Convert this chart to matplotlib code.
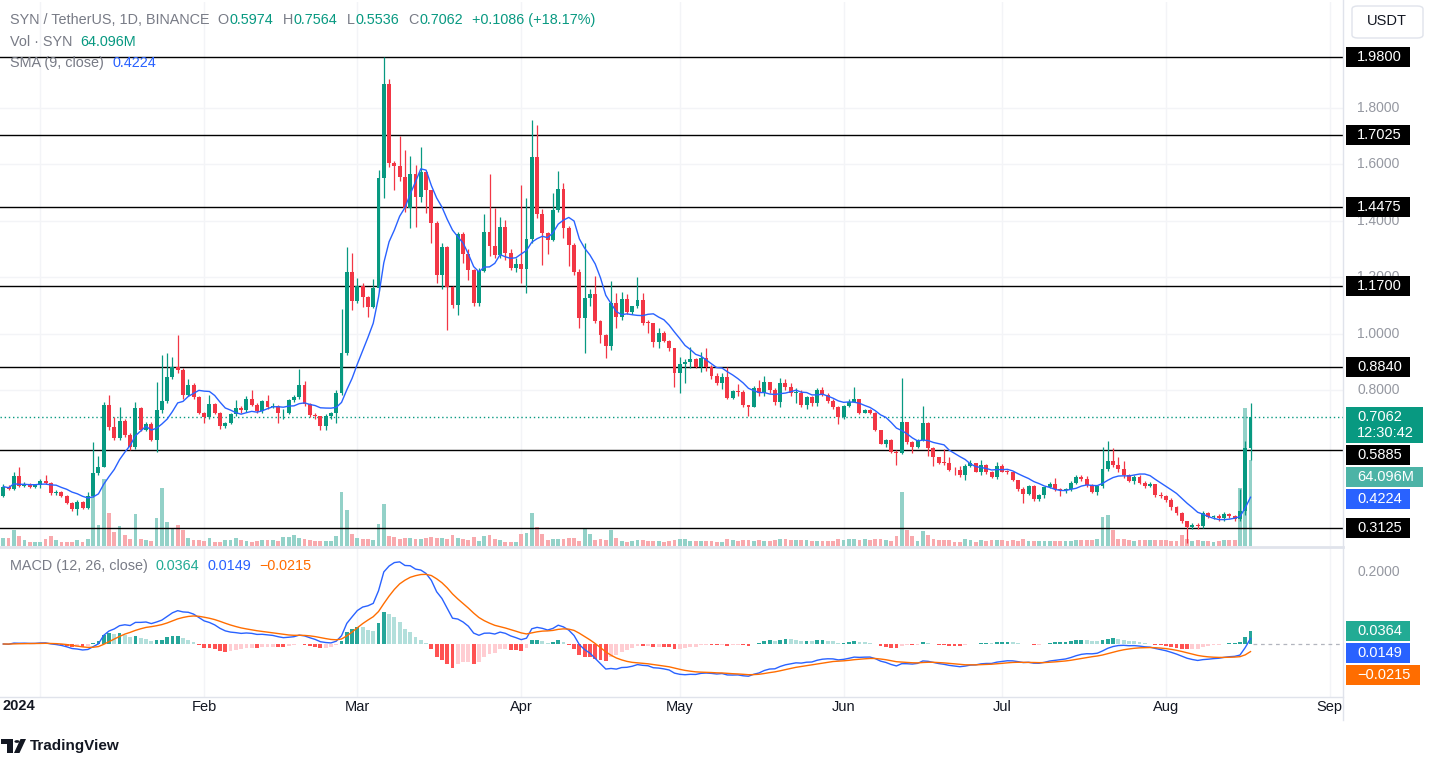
import matplotlib
matplotlib.use('Agg')
import matplotlib.pyplot as plt
import matplotlib.transforms as mtrans
from matplotlib.lines import Line2D
from matplotlib.patches import Polygon, Circle, FancyBboxPatch, Rectangle
import numpy as np
import pandas as pd

plt.rcParams['font.family'] = ['Liberation Sans', 'DejaVu Sans']

# ---- data (SYN/USDT daily) ----
last_day = '2024-08-17'
first_open = 0.427

close = [
    0.460, 0.452, 0.498, 0.462, 0.469, 0.460, 0.466, 0.481, 0.472, 0.436,
    0.441, 0.427, 0.403, 0.380, 0.406, 0.386, 0.427, 0.507, 0.531, 0.749,
    0.670, 0.631, 0.692, 0.643, 0.599, 0.737, 0.660, 0.681, 0.625, 0.731,
    0.763, 0.849, 0.884, 0.874, 0.784, 0.819, 0.778, 0.721, 0.707, 0.752,
    0.721, 0.674, 0.686, 0.717, 0.737,
    0.730, 0.769, 0.749, 0.727, 0.763, 0.743, 0.745, 0.719, 0.722, 0.766,
    0.776, 0.819, 0.752, 0.713, 0.708, 0.674, 0.710, 0.719, 0.790, 0.934,
    1.220, 1.118, 1.170, 1.132, 1.096, 1.161, 1.550, 1.883, 1.603, 1.594,
    1.556, 1.444, 1.564, 1.485, 1.574, 1.509, 1.391, 1.208, 1.306, 1.165,
    1.102, 1.353, 1.283, 1.226,
    1.108, 1.224, 1.359, 1.312, 1.279, 1.377, 1.285, 1.234, 1.246, 1.228,
    1.334, 1.624, 1.423, 1.356, 1.332, 1.438, 1.513, 1.373, 1.314, 1.220,
    1.055, 1.126, 1.141, 1.047, 0.996, 0.957, 1.108, 1.061, 1.122, 1.079,
    1.099, 1.120, 1.040, 1.038, 0.972, 1.004, 0.976, 0.949, 0.861, 0.893,
    0.899, 0.912, 0.884,
    0.914, 0.884, 0.851, 0.828, 0.849, 0.775, 0.798, 0.793, 0.747, 0.743,
    0.810, 0.790, 0.829, 0.802, 0.760, 0.825, 0.811, 0.790, 0.792, 0.747,
    0.778, 0.754, 0.802, 0.784, 0.764, 0.743, 0.705, 0.745, 0.760, 0.769,
    0.721, 0.731, 0.722, 0.660, 0.611, 0.625, 0.584, 0.580, 0.690, 0.619,
    0.601, 0.625, 0.684, 0.598,
    0.564, 0.545, 0.543, 0.519, 0.517, 0.501, 0.533, 0.542, 0.513, 0.536,
    0.513, 0.495, 0.533, 0.513, 0.512, 0.483, 0.453, 0.434, 0.462, 0.415,
    0.430, 0.457, 0.469, 0.450, 0.448, 0.450, 0.474, 0.493, 0.486, 0.466,
    0.442, 0.462, 0.521, 0.549, 0.536, 0.521, 0.501, 0.481, 0.495, 0.474,
    0.462, 0.469, 0.430,
    0.427, 0.413, 0.387, 0.366, 0.340, 0.316, 0.324, 0.320, 0.368, 0.354,
    0.356, 0.348, 0.363, 0.356, 0.346, 0.375, 0.5974, 0.7062,
]

high = [
    0.469, 0.465, 0.513, 0.528, 0.475, 0.472, 0.470, 0.486, 0.501, 0.475,
    0.448, 0.445, 0.430, 0.405, 0.413, 0.410, 0.442, 0.619, 0.568, 0.760,
    0.784, 0.707, 0.743, 0.700, 0.650, 0.760, 0.742, 0.690, 0.690, 0.831,
    0.925, 0.931, 0.919, 0.995, 0.880, 0.839, 0.825, 0.780, 0.725, 0.784,
    0.755, 0.725, 0.690, 0.720, 0.768,
    0.745, 0.780, 0.802, 0.755, 0.768, 0.784, 0.755, 0.750, 0.735, 0.770,
    0.784, 0.875, 0.835, 0.755, 0.720, 0.710, 0.715, 0.725, 0.800, 1.087,
    1.309, 1.285, 1.197, 1.180, 1.135, 1.193, 1.580, 1.980, 1.900, 1.610,
    1.700, 1.650, 1.629, 1.597, 1.662, 1.575, 1.510, 1.400, 1.320, 1.310,
    1.170, 1.360, 1.360, 1.300,
    1.230, 1.232, 1.424, 1.565, 1.444, 1.412, 1.403, 1.300, 1.270, 1.525,
    1.479, 1.756, 1.739, 1.440, 1.360, 1.497, 1.577, 1.532, 1.380, 1.320,
    1.230, 1.320, 1.160, 1.205, 1.050, 1.000, 1.187, 1.143, 1.147, 1.140,
    1.100, 1.202, 1.143, 1.050, 1.040, 1.020, 1.010, 0.980, 0.950, 0.919,
    0.910, 0.955, 0.915,
    0.937, 0.949, 0.890, 0.860, 0.860, 0.882, 0.800, 0.822, 0.800, 0.750,
    0.815, 0.837, 0.851, 0.830, 0.810, 0.843, 0.840, 0.825, 0.810, 0.800,
    0.780, 0.780, 0.810, 0.811, 0.790, 0.770, 0.745, 0.750, 0.770, 0.813,
    0.770, 0.735, 0.735, 0.725, 0.660, 0.630, 0.630, 0.590, 0.843, 0.690,
    0.620, 0.630, 0.745, 0.690,
    0.600, 0.565, 0.592, 0.564, 0.530, 0.533, 0.540, 0.554, 0.545, 0.554,
    0.540, 0.515, 0.548, 0.540, 0.520, 0.510, 0.485, 0.460, 0.465, 0.465,
    0.435, 0.460, 0.477, 0.492, 0.455, 0.455, 0.480, 0.501, 0.501, 0.497,
    0.470, 0.465, 0.601, 0.621, 0.595, 0.566, 0.552, 0.505, 0.500, 0.500,
    0.480, 0.475, 0.470,
    0.440, 0.430, 0.420, 0.390, 0.370, 0.340, 0.330, 0.330, 0.375, 0.370,
    0.360, 0.362, 0.370, 0.365, 0.360, 0.450, 0.620, 0.7564,
]

low = [
    0.422, 0.448, 0.448, 0.458, 0.458, 0.455, 0.455, 0.454, 0.468, 0.432,
    0.432, 0.423, 0.398, 0.375, 0.360, 0.380, 0.382, 0.425, 0.500, 0.528,
    0.660, 0.625, 0.625, 0.635, 0.589, 0.594, 0.655, 0.655, 0.620, 0.584,
    0.720, 0.755, 0.840, 0.860, 0.770, 0.780, 0.770, 0.715, 0.686, 0.700,
    0.715, 0.665, 0.668, 0.680, 0.710,
    0.720, 0.725, 0.745, 0.720, 0.720, 0.735, 0.738, 0.684, 0.700, 0.715,
    0.760, 0.770, 0.745, 0.705, 0.700, 0.660, 0.660, 0.700, 0.684, 0.785,
    0.925, 1.085, 1.110, 1.096, 1.061, 1.090, 1.150, 1.479, 1.590, 1.509,
    1.540, 1.430, 1.373, 1.379, 1.468, 1.426, 1.320, 1.179, 1.158, 1.014,
    1.090, 1.067, 1.250, 1.191,
    1.100, 1.100, 1.220, 1.277, 1.270, 1.270, 1.261, 1.226, 1.220, 1.181,
    1.143, 1.320, 1.410, 1.244, 1.283, 1.330, 1.430, 1.338, 1.241, 1.210,
    1.020, 0.934, 1.100, 1.040, 0.969, 0.914, 0.943, 1.020, 1.050, 1.070,
    1.070, 1.090, 1.030, 1.002, 0.955, 0.949, 0.970, 0.940, 0.813, 0.792,
    0.825, 0.880, 0.880,
    0.866, 0.870, 0.840, 0.820, 0.804, 0.770, 0.770, 0.780, 0.740, 0.710,
    0.740, 0.780, 0.780, 0.790, 0.750, 0.743, 0.800, 0.780, 0.755, 0.740,
    0.734, 0.745, 0.745, 0.780, 0.755, 0.735, 0.681, 0.700, 0.740, 0.760,
    0.715, 0.720, 0.715, 0.655, 0.610, 0.600, 0.580, 0.536, 0.575, 0.610,
    0.578, 0.595, 0.620, 0.568,
    0.533, 0.540, 0.538, 0.515, 0.501, 0.495, 0.483, 0.530, 0.510, 0.501,
    0.505, 0.490, 0.486, 0.510, 0.505, 0.480, 0.445, 0.403, 0.430, 0.410,
    0.410, 0.420, 0.455, 0.445, 0.428, 0.436, 0.445, 0.470, 0.480, 0.460,
    0.438, 0.430, 0.455, 0.515, 0.530, 0.510, 0.490, 0.475, 0.470, 0.470,
    0.455, 0.460, 0.425,
    0.420, 0.405, 0.378, 0.360, 0.330, 0.259, 0.310, 0.310, 0.315, 0.350,
    0.345, 0.340, 0.340, 0.348, 0.340, 0.340, 0.360, 0.5536,
]

# volume in millions of SYN
volume = [
    6.2, 6.2, 12.2, 7.4, 4.2, 3.0, 3.0, 3.0, 5.0, 7.4,
    4.2, 3.0, 3.0, 3.0, 4.2, 3.0, 5.0, 39.7, 15.6, 50.2,
    24.3, 10.4, 14.7, 8.0, 5.0, 23.8, 5.5, 4.2, 3.7, 20.6,
    43.5, 18.1, 13.2, 15.6, 11.7, 5.7, 4.5, 4.2, 3.7, 6.2,
    3.0, 3.0, 4.2, 4.2, 5.7,
    4.2, 3.7, 3.2, 3.7, 4.2, 4.5, 4.2, 3.7, 6.7, 6.7,
    8.2, 5.7, 5.0, 4.5, 3.7, 3.7, 3.7, 3.7, 7.4, 40.4,
    26.8, 9.2, 6.2, 5.0, 5.5, 4.5, 16.6, 31.5, 7.4, 6.7,
    5.0, 6.2, 6.2, 5.5, 5.5, 5.7, 6.7, 6.2, 6.2, 5.0,
    8.2, 6.2, 5.0, 4.2, 6.7, 3.7, 7.4, 8.2, 5.0, 4.2,
    3.2, 3.2, 3.2, 9.2, 9.9, 24.8, 14.1, 9.2, 4.2, 5.5,
    5.0, 5.5, 5.7, 6.2, 3.7, 13.6, 9.2, 4.7, 5.2, 4.2,
    12.2, 6.2, 3.7, 3.2, 3.7, 4.7,
    4.7, 3.7, 3.7, 3.7, 3.2, 3.7, 4.7, 5.5, 5.5, 3.7,
    3.7, 3.7, 3.7, 3.7, 3.2, 3.2, 5.5, 4.7, 3.7, 4.5,
    4.5, 3.7, 4.5, 3.7, 3.7, 4.2, 5.5, 5.0, 4.2, 4.2,
    4.5, 4.2, 3.7, 3.7, 3.7, 3.7, 3.7, 5.5, 4.7, 5.5,
    5.5, 4.5, 5.5, 4.2, 5.0, 5.0, 4.2, 3.7, 7.4, 40.4,
    11.9, 7.4, 3.7, 11.2, 8.2, 5.0, 4.7, 4.7, 4.2, 3.2,
    3.2, 5.0, 4.2, 3.2, 4.7, 3.7, 4.2, 4.7, 4.5, 3.7,
    4.7, 3.7, 5.5, 3.7, 3.7, 3.7, 3.7, 3.7, 3.7, 3.7,
    3.7, 3.7, 4.7, 4.7, 4.7, 4.7, 5.5, 21.6, 23.1, 11.7,
    5.0, 5.0, 4.7, 3.7, 4.2, 4.7, 4.7, 4.2, 4.2, 4.2,
    3.7, 3.7, 8.2, 5.5, 3.7, 4.2, 3.7, 3.7, 3.2, 3.7,
    4.2, 4.2, 4.2, 43.0, 103.0, 64.096,
]

levels = [1.98, 1.7025, 1.4475, 1.17, 0.884, 0.5885, 0.3125]
price_ticks = [1.2, 1.4, 1.6, 1.8, 1.0, 0.8]
macd_ticks = [0.2]
macd_last = [0.0364, 0.0149, -0.0215]   # MACD, signal, histogram (legend)
last_open = 0.5974
change_text = '+0.1086 (+18.17%)'
countdown = '12:30:42'

# ---- colours ----
UP, DOWN = '#089981', '#f23645'
VUP, VDOWN = '#93d1c8', '#f8a9ad'
BLUE, ORANGE = '#2962ff', '#ff6d00'
GREY = '#787b86'
TXT = '#131722'
SEP = '#e0e3eb'
GRID = '#f3f4f7'

W, H = 1430, 757
PANE_R = 1343


def frect(x0, y0, x1, y1):
    return [x0 / W, 1 - y1 / H, (x1 - x0) / W, (y1 - y0) / H]


def fx(x):
    return x / W


def fy(y):
    return 1 - y / H


def fmt(v):
    return f'{v:.4f}'.replace('-', '\u2212')


c = np.array(close)
hi = np.array(high)
lo = np.array(low)
n = len(c)
o = np.r_[first_open, c[:-1]]
idx = np.arange(n)
up = c >= o
dates = pd.date_range(end=last_day, periods=n, freq='D')

s = pd.Series(c)
sma = s.rolling(9, min_periods=1).mean()
ema12 = s.ewm(span=12, adjust=False).mean()
ema26 = s.ewm(span=26, adjust=False).mean()
macd = ema12 - ema26
signal = macd.ewm(span=9, adjust=False).mean()
hist = (macd - signal).values
prev = np.r_[0, hist[:-1]]
hcol = np.where(hist >= 0,
                np.where(hist >= prev, '#26a69a', '#b2dfdb'),
                np.where(hist >= prev, '#ffcdd2', '#ff5252'))

fig = plt.figure(figsize=(W / 100, H / 100), dpi=100)
fig.patch.set_facecolor('white')

axv = fig.add_axes(frect(0, 2, PANE_R, 546))
ax = fig.add_axes(frect(0, 2, PANE_R, 546))
axm = fig.add_axes(frect(0, 548, PANE_R, 697))
ax.patch.set_visible(False)

xl = (-0.625, 253.5)
all_days = pd.date_range(start=dates[0], periods=n + 20, freq='D')
month_pos = [i for i, d in enumerate(all_days) if d.day == 1]
month_lab = ['' if all_days[i].month == 1 else all_days[i].strftime('%b')
             for i in month_pos]

for a in (axv, ax, axm):
    a.set_xlim(*xl)
    for sp in a.spines.values():
        sp.set_visible(False)
    a.set_yticks([])
    a.set_xticks([])

axv.set_ylim(0, 405)
ax.set_ylim(0.250, 2.1736)
axm.set_ylim(-0.1472, 0.2667)

# grid
for p in month_pos:
    axv.axvline(p, color=GRID, lw=1, zorder=0)
    axm.axvline(p, color=GRID, lw=1, zorder=0)

# volume
axv.bar(idx, volume, width=0.72, color=np.where(up, VUP, VDOWN), zorder=1)

# price pane
for t in price_ticks:
    ax.axhline(t, color=GRID, lw=1, zorder=0)
col = np.where(up, UP, DOWN)
ax.vlines(idx, lo, hi, colors=col, lw=0.9, zorder=3)
body = np.maximum(np.abs(c - o), 0.003)
ax.bar(idx, body, bottom=np.minimum(o, c), width=0.74, color=col, zorder=4)
ax.plot(idx, sma, color=BLUE, lw=1.0, zorder=5)

for lv in levels:
    ax.axhline(lv, color='black', lw=1.0, zorder=2)
ax.axhline(c[-1], color=UP, lw=1.0, ls=(0, (1, 2)), zorder=2)

yt = mtrans.blended_transform_factory(ax.transAxes, ax.transData)
for t in price_ticks:
    ax.text(1357 / PANE_R, t, fmt(t), transform=yt, ha='left', va='center',
            fontsize=10, color='#9598a1', clip_on=False, zorder=6)


def px_y(axis, v):
    return H - axis.transData.transform((0, v))[1]


# right-scale tags: (natural top pixel, height, lines, colour, width)
tags = [(px_y(ax, lv) - 10, 20, [fmt(lv)], 'black', 64) for lv in levels]
tags.append((px_y(ax, c[-1]) - 10, 36, [fmt(c[-1]), countdown], UP, 77))
tags.append((px_y(axv, volume[-1]) - 10, 20, [f'{volume[-1]:.3f}M'], '#4cb3a6', 77))
tags.append((px_y(ax, sma.iloc[-1]) - 10, 20, [fmt(sma.iloc[-1])], BLUE, 64))
mtags = [(px_y(axm, v) - 10, 20, [fmt(v)], fc, w)
         for v, fc, w in zip(macd_last, ('#22ab94', BLUE, ORANGE), (64, 64, 74))]


def draw_tags(tag_list):
    bottom = -1e9
    for top, h, lines, fc, w in sorted(tag_list, key=lambda t: t[0]):
        top = max(top, bottom + 2)
        fig.add_artist(Rectangle((fx(1346), fy(top + h)), w / W, h / H,
                                 transform=fig.transFigure, fc=fc, ec='none',
                                 zorder=9))
        for k, line in enumerate(lines):
            fig.text(fx(1357), fy(top + 10 + 16 * k), line, ha='left',
                     va='center', fontsize=10.5, color='white', zorder=10)
        bottom = top + h


draw_tags(tags)
draw_tags(mtags)

# MACD pane
axm.bar(idx, hist, width=0.72, color=hcol, zorder=2)
axm.plot(idx, macd, color=BLUE, lw=1.0, zorder=3)
axm.plot(idx, signal, color=ORANGE, lw=1.0, zorder=3)
axm.axhline(0, xmin=(n - 0.5 - xl[0]) / (xl[1] - xl[0]), color='#b2b5be',
            lw=0.9, ls=(0, (3, 3)), zorder=1)
mt = mtrans.blended_transform_factory(axm.transAxes, axm.transData)
for t in macd_ticks:
    axm.text(1357 / PANE_R, t, fmt(t), transform=mt, ha='left',
             va='center', fontsize=10, color='#9598a1', clip_on=False)

axm.set_xticks(month_pos)
axm.set_xticklabels(month_lab)
axm.tick_params(axis='x', length=0, pad=2, labelsize=10.5, labelcolor=TXT)
fig.text(fx(19), fy(706), str(all_days[month_pos[0]].year), ha='center',
         va='center', fontsize=10.5, fontweight='bold', color=TXT)

# separators
fig.add_artist(Line2D([0, fx(PANE_R)], [fy(547), fy(547)], color=SEP, lw=2))
fig.add_artist(Line2D([0, fx(PANE_R)], [fy(697), fy(697)], color=SEP, lw=1))
fig.add_artist(Line2D([fx(PANE_R), fx(PANE_R)], [fy(0), fy(720)], color=SEP, lw=1))

# legends, laid out left to right
renderer = fig.canvas.get_renderer()


def legend_row(y, parts, x=10, size=10.4):
    for txt, color, gap in parts:
        t = fig.text(fx(x), fy(y), txt, ha='left', va='center',
                     fontsize=size, color=color)
        x += t.get_window_extent(renderer).width + gap


legend_row(20, [('SYN / TetherUS, 1D, BINANCE', GREY, 8),
                ('O', GREY, 1), (fmt(last_open), UP, 9),
                ('H', GREY, 1), (fmt(hi[-1]), UP, 9),
                ('L', GREY, 1), (fmt(lo[-1]), UP, 9),
                ('C', GREY, 1), (fmt(c[-1]), UP, 9),
                (change_text, UP, 0)])
legend_row(42, [('Vol \u00b7 SYN', GREY, 8), (f'{volume[-1]:.3f}M', UP, 0)])
legend_row(63, [('SMA (9, close)', GREY, 9), (fmt(sma.iloc[-1]), BLUE, 0)])
legend_row(566, [('MACD (12, 26, close)', GREY, 8),
                 (fmt(macd_last[0]), '#22ab94', 8),
                 (fmt(macd_last[1]), BLUE, 8),
                 (fmt(macd_last[2]), ORANGE, 0)])

# currency button
fig.add_artist(FancyBboxPatch((fx(1352), fy(38)), fx(71), 32 / H,
                              boxstyle='round,pad=0,rounding_size=0.004',
                              transform=fig.transFigure, fc='white',
                              ec=SEP, lw=1))
fig.text(fx(1387), fy(21), 'USDT', ha='center', va='center', fontsize=10.5,
         color=TXT)

# TradingView mark
fig.add_artist(Polygon([(fx(1), fy(739)), (fx(13), fy(739)), (fx(13), fy(753)),
                        (fx(7), fy(753)), (fx(7), fy(744)), (fx(1), fy(744))],
                       closed=True, transform=fig.transFigure, fc=TXT, ec='none'))
fig.add_artist(Circle((fx(17), fy(741.5)), 2.6 / W, transform=fig.transFigure,
                      fc=TXT, ec='none'))
fig.add_artist(Polygon([(fx(14), fy(753)), (fx(19.5), fy(753)), (fx(26), fy(739)),
                        (fx(20.5), fy(739))], closed=True,
                       transform=fig.transFigure, fc=TXT, ec='none'))
fig.text(fx(30), fy(746), 'TradingView', ha='left', va='center', fontsize=11,
         fontweight='bold', color=TXT)

fig.savefig('out.png', dpi=100, facecolor='white')
